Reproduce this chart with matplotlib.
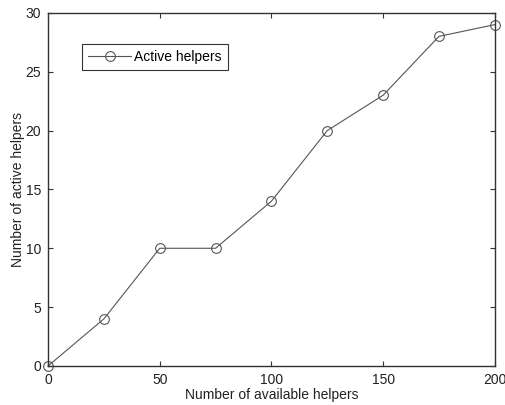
import matplotlib
matplotlib.use("Agg")
import matplotlib.pyplot as plt

available = [0, 25, 50, 75, 100, 125, 150, 175, 200]
active = [0, 4, 10, 10, 14, 20, 23, 28, 29]
xticks = [0, 50, 100, 150, 200]
yticks = [0, 5, 10, 15, 20, 25, 30]

plt.rcParams['font.family'] = ['Liberation Sans', 'DejaVu Sans']
plt.rcParams['font.size'] = 10

fig = plt.figure(figsize=(5.06, 4.05), dpi=100)
ax = fig.add_axes([0.0949, 0.0963, 0.883, 0.872])
ax.plot(available, active, color='#555555', lw=0.8, marker='o', ms=7,
        mfc='none', mec='#555555', mew=0.8, label='Active helpers', clip_on=False)
ax.set_xlim(0, 200)
ax.set_ylim(0, 30)
ax.set_xticks(xticks)
ax.set_yticks(yticks)
ax.tick_params(direction='in', length=3.5, width=0.8, top=True, right=True,
               colors='#333333', labelcolor='#222222')
ax.tick_params(axis='x', pad=5)
ax.tick_params(axis='y', pad=5)
for s in ax.spines.values():
    s.set_linewidth(1.0)
    s.set_color('#333333')
ax.set_xlabel('Number of available helpers', labelpad=1, color='#222222')
ax.set_ylabel('Number of active helpers', labelpad=0, color='#222222')
leg = ax.legend(loc='upper left', bbox_to_anchor=(0.076, 0.912), borderaxespad=0,
                frameon=True, fancybox=False, edgecolor='black', borderpad=0.45,
                handlelength=3.1, handletextpad=0.2)
leg.get_frame().set_linewidth(0.8)
fig.savefig('out.png', dpi=100)
